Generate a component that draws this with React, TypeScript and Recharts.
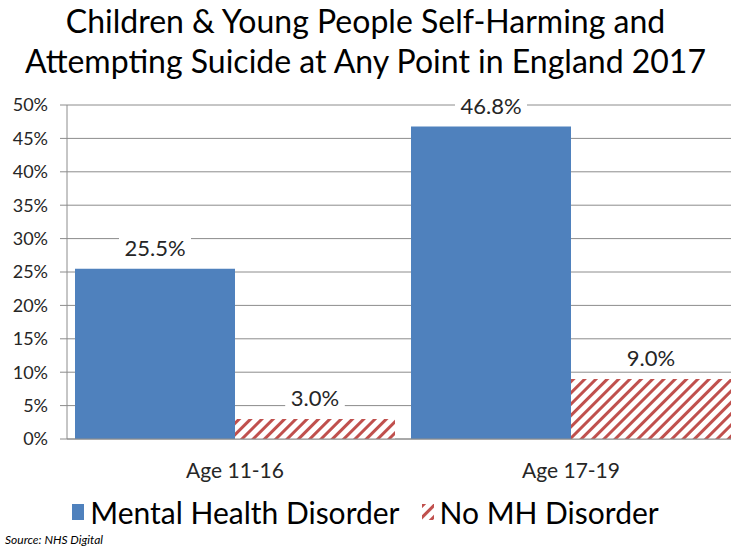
import React from 'react';
import { BarChart, Bar, XAxis, YAxis, CartesianGrid, LabelList } from 'recharts';

const categories = ['Age 11-16', 'Age 17-19'];
const mentalHealth = [25.5, 46.8];
const noMH = [3.0, 9.0];
const yTicks = [0, 5, 10, 15, 20, 25, 30, 35, 40, 45, 50];

const BLUE = '#4F81BD';
const RED = '#C0504D';
const FONT = 'Lato, "Open Sans", sans-serif';

const data = categories.map((name, i) => ({ name, mh: mentalHealth[i], nomh: noMH[i] }));

function BoxLabel(props: any) {
  const { x, y, width, value } = props;
  const cx = x + width / 2;
  const cy = y - 21;
  const text = `${Number(value).toFixed(1)}%`;
  const w = text.length * 12.4 + 10;
  return (
    <g>
      <rect x={cx - w / 2} y={cy - 13} width={w} height={26} fill="#fff" />
      <text x={cx} y={cy} textAnchor="middle" dominantBaseline="central" fontSize={22} fill="#262626" fontFamily={FONT}>
        {text}
      </text>
    </g>
  );
}

export default function App() {
  return (
    <div style={{ position: 'absolute', left: 0, top: 0, width: 731, height: 550, overflow: 'hidden', background: '#fff' }}>
      <div
        style={{
          position: 'absolute',
          left: 0,
          top: 1,
          width: 731,
          textAlign: 'center',
          fontFamily: FONT,
          fontSize: 32,
          lineHeight: '40px',
          color: '#000',
        }}
      >
        Children &amp; Young People Self-Harming and
        <br />
        Attempting Suicide at Any Point in England 2017
      </div>
      <BarChart
        width={740}
        height={550}
        data={data}
        margin={{ top: 105, right: 1, bottom: 81, left: 0 }}
        barCategoryGap={8}
        barGap={0}
      >
        <defs>
          <pattern id="hatch" patternUnits="userSpaceOnUse" width={8} height={8} patternTransform="rotate(45)">
            <rect width={8} height={8} fill="#fff" />
            <rect width={3} height={8} fill={RED} />
          </pattern>
        </defs>
        <CartesianGrid vertical={false} stroke="#8c8c8c" strokeWidth={1} />
        <XAxis
          dataKey="name"
          stroke="#8c8c8c"
          tickLine={false}
          tickMargin={18}
          tick={{ fontSize: 21, fill: '#262626', fontFamily: FONT }}
        />
        <YAxis
          domain={[0, 50]}
          ticks={yTicks}
          width={67}
          stroke="#8c8c8c"
          tickSize={7}
          tickMargin={12}
          tickFormatter={(v: number) => `${v}%`}
          tick={{ fontSize: 18, fill: '#262626', fontFamily: FONT }}
        />
        <Bar dataKey="mh" name="Mental Health Disorder" fill={BLUE} isAnimationActive={false}>
          <LabelList dataKey="mh" content={<BoxLabel />} />
        </Bar>
        <Bar dataKey="nomh" name="No MH Disorder" fill="url(#hatch)" isAnimationActive={false}>
          <LabelList dataKey="nomh" content={<BoxLabel />} />
        </Bar>
      </BarChart>
      <div
        style={{
          position: 'absolute',
          top: 494,
          left: 0,
          width: 731,
          display: 'flex',
          justifyContent: 'center',
          alignItems: 'center',
          fontFamily: FONT,
          fontSize: 30,
          color: '#000',
        }}
      >
        <svg width={12} height={16} style={{ marginRight: 6 }}>
          <rect width={12} height={16} fill={BLUE} />
        </svg>
        <span>Mental Health Disorder</span>
        <svg width={12} height={16} style={{ marginLeft: 22, marginRight: 6 }}>
          <rect width={12} height={16} fill="url(#hatch)" />
        </svg>
        <span>No MH Disorder</span>
      </div>
      <div style={{ position: 'absolute', left: 5, top: 532, fontFamily: FONT, fontStyle: 'italic', fontSize: 12, color: '#000' }}>
        Source: NHS Digital
      </div>
    </div>
  );
}
